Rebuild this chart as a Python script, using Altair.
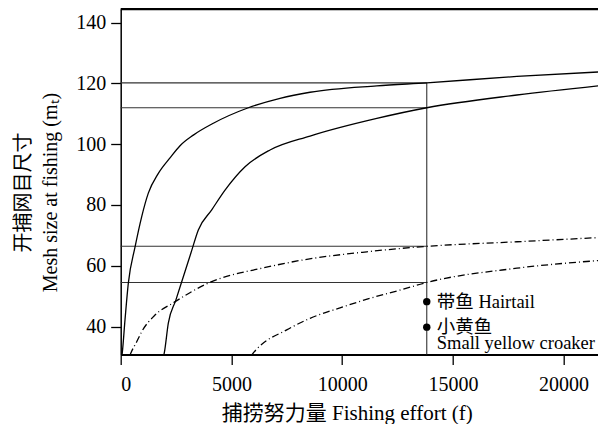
import altair as alt
import pandas as pd

# ---- data ----
# solid curve, hairtail (left)
a_x = [40, 72, 194, 343, 646, 949, 1247, 1700, 2227, 2679, 3280, 4183, 5764, 7196, 8550, 11565, 13820, 17890, 21920]
a_y = [29.5, 31.4, 42.2, 54.2, 66.1, 76.2, 83.9, 90.4, 95.5, 99.5, 103.0, 106.9, 112.0, 115.1, 117.1, 119.2, 120.2, 122.3, 123.9]
# solid curve, small yellow croaker (right)
b_x = [1930, 1970, 2150, 2490, 2828, 3167, 3505, 4110, 4711, 5615, 6744, 8550, 11565, 13820, 17890, 21920]
b_y = [30.0, 31.4, 41.1, 48.7, 56.4, 64.1, 71.8, 78.4, 84.9, 92.6, 98.1, 102.7, 108.5, 112.0, 116.2, 119.5]
# dash-dot curve, hairtail
c_x = [420, 465, 723, 949, 1550, 2376, 3207, 4110, 5014, 5990, 8300, 11113, 13820, 17890, 21920]
c_y = [30.6, 31.4, 35.0, 38.3, 43.8, 47.8, 51.5, 54.8, 57.0, 58.6, 62.0, 64.6, 66.4, 67.9, 69.4]
# dash-dot curve, small yellow croaker
d_x = [5900, 6143, 7498, 8550, 10055, 11260, 12616, 13820, 17890, 21920]
d_y = [30.5, 32.6, 38.9, 42.7, 46.5, 49.3, 52.0, 54.5, 59.2, 61.9]

ref_levels = [120.2, 112.0, 66.4, 54.5]
f_opt = 13820
dot_y = [48.2, 39.8]
labels = ["带鱼 Hairtail", "小黄鱼", "Small yellow croaker"]
label_y = [48.2, 39.8, 34.6]

W, H = 477.3, 345.5
X_DOMAIN = [0, 21900 * W / 485]
Y_DOMAIN = [30.8, 144.5]
FONT = "'Liberation Serif', 'Noto Sans CJK SC', serif"

xs = alt.Scale(domain=X_DOMAIN, nice=False, zero=False)
ys = alt.Scale(domain=Y_DOMAIN, nice=False, zero=False)

x_axis = alt.Axis(values=[0, 5000, 10000, 15000, 20000], format="d", tickSize=10,
                  labelPadding=10, domainWidth=2, titleX=226, titleAlign="center",
                  titleY=58.5, titleBaseline="middle", titleFontSize=21,
                  titleFontWeight="normal", grid=False)
y_axis = alt.Axis(values=[40, 60, 80, 100, 120, 140], tickSize=10, labelPadding=5,
                  domainWidth=1.5, titleAngle=-90, titleX=-97.7, titleY=183,
                  titleBaseline="middle", titleAlign="center", titleLineHeight=27,
                  titleFontSize=20, titleFontWeight="normal", grid=False)

def enc():
    return dict(
        x=alt.X("x:Q", scale=xs, axis=x_axis, title="捕捞努力量 Fishing effort (f)"),
        y=alt.Y("y:Q", scale=ys, axis=y_axis,
                title=["开捕网目尺寸", "Mesh size at fishing (mₜ)"]),
    )

def curve(xv, yv, dash=None):
    df = pd.DataFrame({"x": xv, "y": yv})
    kw = dict(color="black", strokeWidth=1.3, clip=True, interpolate="monotone")
    if dash:
        kw["strokeDash"] = dash
    return alt.Chart(df).mark_line(**kw).encode(**enc(), order="x:Q")

hdf = pd.DataFrame({"x": [0] * len(ref_levels), "x2": [f_opt] * len(ref_levels), "y": ref_levels})
hlines = alt.Chart(hdf).mark_rule(color="#333333", strokeWidth=1.1).encode(
    **enc(), x2="x2:Q")

vdf = pd.DataFrame({"x": [f_opt], "y": [Y_DOMAIN[0]], "y2": [max(ref_levels)]})
vline = alt.Chart(vdf).mark_rule(color="#333333", strokeWidth=1.1).encode(
    **enc(), y2="y2:Q")

ddf = pd.DataFrame({"x": [f_opt] * len(dot_y), "y": dot_y})
dots = alt.Chart(ddf).mark_point(filled=True, color="black", size=55, opacity=1).encode(**enc())

tdf = pd.DataFrame({"x": [f_opt] * len(labels), "y": label_y, "t": labels})
texts = alt.Chart(tdf).mark_text(align="left", baseline="middle", dx=10, fontSize=18.5,
                                 font=FONT, color="black").encode(**enc(), text="t:N")

top = alt.Chart(pd.DataFrame({"a": [0]})).mark_rule(color="black", strokeWidth=2.5).encode(
    y=alt.value(0), x=alt.value(0), x2=alt.value(W))

chart = alt.layer(
    hlines, vline,
    curve(a_x, a_y), curve(b_x, b_y),
    curve(c_x, c_y, [7, 3, 1, 3]), curve(d_x, d_y, [7, 3, 1, 3]),
    dots, texts, top,
).properties(
    width=W, height=H,
    autosize=alt.AutoSizeParams(type="none"),
    padding={"left": 112.7, "top": 1, "right": 0, "bottom": 69},
).configure_view(stroke=None).configure_axis(
    labelFont=FONT, titleFont=FONT, labelFontSize=20,
    labelColor="black", titleColor="black", domainColor="black", tickColor="black",
    tickWidth=1.3,
)

chart.save("out.html", embed_options={"renderer": "svg", "actions": False})
